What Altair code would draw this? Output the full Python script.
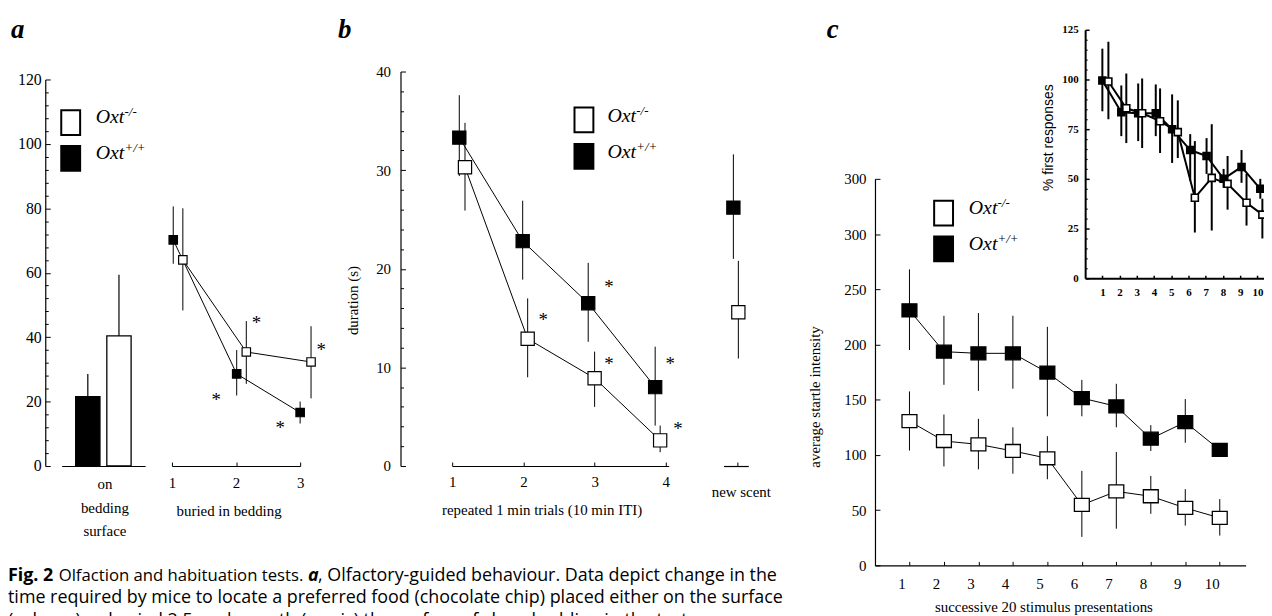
import altair as alt
import pandas as pd

W, H = 1264, 608
SERIF = "Liberation Serif"
SANS = "Open Sans"
GENO = ["Oxt+/+", "Oxt-/-"]  # wild type (filled), knockout (open)

# ---------------- panel a ----------------
a_bar_mean = [21.5, 40.4]
a_bar_upper = [28.6, 59.4]
a_wt_x = [1.02, 2.01, 3.00]
a_wt_mean = [70.2, 28.6, 16.6]
a_wt_lo = [62.8, 21.9, 13.2]
a_wt_hi = [80.6, 36.0, 20.0]
a_ko_x = [1.17, 2.16, 3.17]
a_ko_mean = [64.0, 35.4, 32.3]
a_ko_lo = [48.3, 25.5, 21.0]
a_ko_hi = [80.0, 45.0, 43.4]
a_star_x = [2.32, 3.33, 1.69, 2.69]
a_star_y = [45.2, 36.9, 21.5, 12.6]
a_y_ticks = [0, 20, 40, 60, 80, 100, 120]
a_y_minor = [4, 8, 12, 16, 24, 28, 32, 36, 44, 48, 52, 56, 64, 68, 72, 76,
             84, 88, 92, 96, 104, 108, 112, 116]
a_x_ticks = [1, 2, 3]

# ---------------- panel b ----------------
b_wt_x = [1.10, 1.99, 2.91, 3.85]
b_wt_mean = [33.3, 22.8, 16.5, 8.0]
b_wt_lo = [29.4, 18.9, 12.6, 4.1]
b_wt_hi = [37.6, 26.9, 20.6, 12.1]
b_ko_x = [1.18, 2.06, 3.00, 3.92]
b_ko_mean = [30.3, 12.9, 8.9, 2.6]
b_ko_lo = [25.9, 9.0, 6.0, 1.4]
b_ko_hi = [34.8, 17.0, 11.6, 4.1]
b_new_x = [0.40, 0.60]
b_new_mean = [26.2, 15.6]
b_new_lo = [21.0, 10.9]
b_new_hi = [31.6, 20.8]
b_star_x = [2.28, 3.20, 3.20, 4.06, 4.17]
b_star_y = [15.1, 18.5, 10.6, 10.6, 4.1]
b_y_ticks = [0, 10, 20, 30, 40]
b_y_minor = [2, 4, 6, 8, 12, 14, 16, 18, 22, 24, 26, 28, 32, 34, 36, 38]
b_x_ticks = [1, 2, 3, 4]

# ---------------- panel c ----------------
c_trial = [1, 2, 3, 4, 5, 6, 7, 8, 9, 10]
c_wt_mean = [231, 193.5, 192, 192, 174.6, 151.5, 144, 114.7, 129.7, 104.5]
c_wt_lo = [195, 163.5, 158, 160, 135, 135, 125, 103.6, 111, 104.5]
c_wt_hi = [268, 226, 228.5, 226, 216, 168, 164.4, 127, 150.6, 104.5]
c_ko_mean = [130.6, 112.6, 109.6, 103.6, 97, 54.8, 67, 62.6, 52, 43]
c_ko_lo = [104, 89.6, 87, 83, 78, 25.8, 33.2, 46.7, 36, 27]
c_ko_hi = [157.5, 136.6, 132.7, 125, 117, 85.6, 102.7, 81, 69, 60]
c_y_ticks = [0, 50, 100, 150, 200, 250, 300, 350]

# ---------------- panel c inset ----------------
i_wt_x = [1.0, 2.1, 3.08, 4.1, 5.05, 6.1, 7.05, 8.04, 9.08, 10.17]
i_wt_mean = [99.5, 83.5, 83, 83, 75, 64.5, 61.5, 50, 56, 45]
i_wt_lo = [84, 71.5, 69, 71.5, 58, 49, 52.5, 45.5, 48, 40]
i_wt_hi = [115.5, 97, 98, 97.5, 92.5, 72.5, 70.5, 55, 64.5, 50]
i_ko_x = [1.35, 2.39, 3.31, 4.35, 5.38, 6.37, 7.35, 8.27, 9.37, 10.29]
i_ko_mean = [99, 85.5, 83, 79, 73.5, 40.5, 50.5, 47.5, 38, 32]
i_ko_lo = [80, 68, 65.5, 63, 60.5, 23, 24, 34.5, 26.5, 20]
i_ko_hi = [119, 103, 100.5, 95.5, 89.5, 69, 77.5, 61.5, 52.5, 40]
i_y_ticks = [0, 25, 50, 75, 100, 125]
i_y_minor = [5, 10, 15, 20, 30, 35, 40, 45, 55, 60, 65, 70, 80, 85, 90, 95,
             105, 110, 115, 120]
i_x_ticks = [1, 2, 3, 4, 5, 6, 7, 8, 9, 10]

# ---------------- legend / caption text ----------------
legend_geno = ["Oxt-/-", "Oxt+/+"]
legend_text = ["Oxt", "Oxt"]
legend_sup = ["-/-", "+/+"]
panel_letters = ["a", "b", "c"]
cap1 = ["Fig. 2", "Olfaction and habituation tests.", "a",
        ", Olfactory-guided behaviour. Data depict change in the"]
cap2 = "time required by mice to locate a preferred food (chocolate chip) placed either on the surface"
cap3 = "(column) or buried 2.5 cm beneath (x-axis) the surface of clean bedding in the test cage."

# legend anchors in each panel's data units
A_LEG = dict(sx=-0.58, sy=[106.6, 95.5], tx=-0.19, ty=[106.5, 95.2])
B_LEG = dict(sx=2.85, sy=[35.1, 31.4], tx=3.18, ty=[34.9, 31.2])
C_LEG = dict(sx=1.99, sy=[318.9, 286.6], tx=2.72, ty=[318.5, 285.2])


def lin(domain, rng):
    return alt.Scale(domain=domain, range=rng, nice=False, zero=False)


XA = lin([1, 3], [165, 294])
YA = lin([0, 120], [459, 70])
XA_BAR = alt.Scale(domain=GENO, range=[54, 138], paddingInner=0.22, paddingOuter=0.45)
XB = lin([1, 4.04], [447, 664.9])
XB_NEW = lin([0, 1], [720, 745])
YB = lin([0, 40], [459, 62])
XC = lin([0, 10.75], [872.5, 1245.5])
YC = lin([0, 350], [559, 170])
XI = lin([0, 10.8], [1084, 1271.2])
YI = lin([0, 125], [270, 20])
FILL = alt.Scale(domain=GENO, range=["black", "white"])


def axis(**kw):
    base = dict(grid=False, domainColor="black", domainWidth=1.2, tickColor="black",
                labelColor="black", labelFont=SERIF, titleFont=SERIF, titleColor="black",
                titleFontWeight="normal", labelFlush=False, labelOverlap=False,
                ticks=False, title=None, labelExpr="toString(datum.value)")
    base.update(kw)
    return alt.Axis(**base)


def sdf(geno, x, mean, lo, hi):
    n = len(x)
    return pd.DataFrame({"geno": [geno] * n, "x": x, "mean": mean, "lo": lo, "hi": hi})


def series_layers(df, xs, ys, size, shape, lw=1.0, sw=1.2, xaxis=None, yaxis=None, line=True):
    base = alt.Chart(df)
    out = []
    if line:
        out.append(base.mark_line(color="black", strokeWidth=lw).encode(
            x=alt.X("x:Q", scale=xs, axis=None), y=alt.Y("mean:Q", scale=ys, axis=None),
            detail="geno:N"))
    out.append(base.mark_rule(color="black", strokeWidth=lw).encode(
        x=alt.X("x:Q", scale=xs, axis=xaxis), y=alt.Y("lo:Q", scale=ys, axis=yaxis), y2="hi:Q"))
    out.append(base.mark_point(shape=shape, filled=True, size=size, stroke="black",
                               strokeWidth=sw, opacity=1).encode(
        x=alt.X("x:Q", scale=xs, axis=None), y=alt.Y("mean:Q", scale=ys, axis=None),
        fill=alt.Fill("geno:N", scale=FILL, legend=None)))
    return out


def stars(xv, yv, xs, ys):
    df = pd.DataFrame({"x": xv, "y": yv, "s": ["*"] * len(xv)})
    return alt.Chart(df).mark_text(font=SERIF, fontSize=19, color="black",
                                   baseline="alphabetic", dy=9).encode(
        x=alt.X("x:Q", scale=xs, axis=None), y=alt.Y("y:Q", scale=ys, axis=None), text="s:N")


LEG_SHAPE = "M-0.76,-1L0.76,-1L0.76,1L-0.76,1Z"


def legend_layers(xs, ys, pos):
    df = pd.DataFrame({"geno": legend_geno, "lab": legend_text, "sup": legend_sup,
                       "sx": [pos["sx"]] * 2, "sy": pos["sy"],
                       "tx": [pos["tx"]] * 2, "ty": pos["ty"]})
    base = alt.Chart(df)
    sq = base.mark_point(shape=LEG_SHAPE, filled=True, size=625, stroke="black",
                         strokeWidth=2, opacity=1).encode(
        x=alt.X("sx:Q", scale=xs, axis=None), y=alt.Y("sy:Q", scale=ys, axis=None),
        fill=alt.Fill("geno:N", scale=FILL, legend=None))
    txt = base.mark_text(align="left", baseline="alphabetic", font=SERIF, fontStyle="italic",
                         fontSize=20, color="black").encode(
        x=alt.X("tx:Q", scale=xs, axis=None), y=alt.Y("ty:Q", scale=ys, axis=None), text="lab:N")
    sup = base.mark_text(align="left", baseline="alphabetic", font=SERIF, fontStyle="italic",
                         fontSize=13, color="black", dx=29, dy=-7).encode(
        x=alt.X("tx:Q", scale=xs, axis=None), y=alt.Y("ty:Q", scale=ys, axis=None), text="sup:N")
    return [sq, txt, sup]


def tick_child(values, scale, channel, pos, size, width=1.0):
    df = pd.DataFrame({"v": values})
    common = dict(values=values, labels=False, domain=False, ticks=True, tickSize=size,
                  tickColor="black", tickWidth=width, grid=False, title=None)
    if channel == "y":
        enc = {"y": alt.Y("v:Q", scale=scale,
                          axis=alt.Axis(orient="right", offset=pos - W, **common))}
    else:
        enc = {"x": alt.X("v:Q", scale=scale,
                          axis=alt.Axis(orient="top", offset=-pos, **common))}
    return alt.Chart(df).mark_point(opacity=0).encode(**enc)


def label(text, x, y, size, weight="normal", style="normal", font=SANS, align="left"):
    return alt.Chart(pd.DataFrame({"t": [text]})).mark_text(
        x=x, y=y, align=align, baseline="alphabetic", font=font, fontSize=size,
        fontWeight=weight, fontStyle=style, color="black").encode(text="t:N")


units = []

# ---------------- panel a ----------------
df_bar = pd.DataFrame({"geno": GENO, "mean": a_bar_mean, "upper": a_bar_upper})
ax_bar = axis(orient="bottom", offset=459 - H, labels=False,
              title=["on", "bedding", "surface"], titleFontSize=15, titleX=97, titleY=23,
              titleBaseline="alphabetic", titleLineHeight=23.5, titleAlign="center")
units.append(alt.Chart(df_bar).mark_bar(stroke="black", strokeWidth=1.3).encode(
    x=alt.X("geno:N", scale=XA_BAR, axis=ax_bar),
    y=alt.Y("mean:Q", scale=YA, axis=None),
    fill=alt.Fill("geno:N", scale=FILL, legend=None)))
units.append(alt.Chart(df_bar).mark_rule(color="black", strokeWidth=1.2).encode(
    x=alt.X("geno:N", scale=XA_BAR, axis=None),
    y=alt.Y("mean:Q", scale=YA, axis=None), y2="upper:Q"))

df_a = pd.concat([sdf("Oxt+/+", a_wt_x, a_wt_mean, a_wt_lo, a_wt_hi),
                  sdf("Oxt-/-", a_ko_x, a_ko_mean, a_ko_lo, a_ko_hi)])
ax_a_x = axis(orient="bottom", offset=459 - H, values=a_x_ticks, labelFontSize=15,
              labelBaseline="middle", labelPadding=17, title="buried in bedding",
              titleFontSize=15, titleX=222, titleY=50, titleBaseline="alphabetic",
              titleAlign="center")
ax_a_y = axis(orient="left", offset=-37.5, values=a_y_ticks, labelFontSize=16, labelPadding=4)
units += series_layers(df_a, XA, YA, 72, "square", xaxis=ax_a_x, yaxis=ax_a_y)
units.append(stars(a_star_x, a_star_y, XA, YA))
units += legend_layers(XA, YA, A_LEG)

# ---------------- panel b ----------------
df_b = pd.concat([sdf("Oxt+/+", b_wt_x, b_wt_mean, b_wt_lo, b_wt_hi),
                  sdf("Oxt-/-", b_ko_x, b_ko_mean, b_ko_lo, b_ko_hi)])
ax_b_x = axis(orient="bottom", offset=459 - H, values=b_x_ticks, labelFontSize=15,
              labelBaseline="middle", labelPadding=16,
              title="repeated 1 min trials (10 min ITI)", titleFontSize=15, titleX=537,
              titleY=49, titleBaseline="alphabetic", titleAlign="center")
ax_b_y = axis(orient="left", offset=-395, values=b_y_ticks, labelFontSize=15, labelPadding=10,
              title="duration (s)", titleFontSize=15, titleX=-48, titleY=292, titleAngle=270,
              titleBaseline="middle", titleAlign="center")
units += series_layers(df_b, XB, YB, 177, "square", xaxis=ax_b_x, yaxis=ax_b_y)
units.append(stars(b_star_x, b_star_y, XB, YB))
units += legend_layers(XB, YB, B_LEG)

df_bn = pd.concat([sdf("Oxt+/+", b_new_x[:1], b_new_mean[:1], b_new_lo[:1], b_new_hi[:1]),
                   sdf("Oxt-/-", b_new_x[1:], b_new_mean[1:], b_new_lo[1:], b_new_hi[1:])])
ax_bn_x = axis(orient="bottom", offset=459 - H, values=[0.7], labelExpr="'new scent'",
               labelFontSize=15, labelBaseline="middle", labelPadding=26)
units += series_layers(df_bn, XB_NEW, YB, 177, "square", xaxis=ax_bn_x, line=False)

# ---------------- panel c ----------------
df_c = pd.concat([sdf("Oxt+/+", c_trial, c_wt_mean, c_wt_lo, c_wt_hi),
                  sdf("Oxt-/-", c_trial, c_ko_mean, c_ko_lo, c_ko_hi)])
ax_c_x = axis(orient="bottom", offset=559 - H, values=c_trial, labelFontSize=15,
              labelBaseline="middle", labelPadding=18, labelOffset=-8,
              title="successive 20 stimulus presentations", titleFontSize=15, titleX=1042,
              titleY=46, titleBaseline="alphabetic", titleAlign="center")
ax_c_y = axis(orient="left", offset=-872.5, values=c_y_ticks, labelFontSize=15, labelPadding=9,
              labelExpr="datum.value == 350 ? '300' : toString(datum.value)",
              title="average startle intensity", titleFontSize=15, titleX=-60.5, titleY=389,
              titleAngle=270, titleBaseline="middle", titleAlign="center")
C_SHAPE = "M-1,-0.87L1,-0.87L1,0.87L-1,0.87Z"
units += series_layers(df_c, XC, YC, 225, C_SHAPE, sw=1.3, xaxis=ax_c_x, yaxis=ax_c_y)
units += legend_layers(XC, YC, C_LEG)

# ---------------- inset ----------------
df_i = pd.concat([sdf("Oxt+/+", i_wt_x, i_wt_mean, i_wt_lo, i_wt_hi),
                  sdf("Oxt-/-", i_ko_x, i_ko_mean, i_ko_lo, i_ko_hi)])
ax_i_x = axis(orient="bottom", offset=270 - H, values=i_x_ticks, labelFontSize=11,
              labelFontWeight="bold", labelBaseline="middle", labelPadding=14, domainWidth=2)
ax_i_y = axis(orient="left", offset=-1084, values=i_y_ticks, labelFontSize=11,
              labelFontWeight="bold", labelPadding=7, domainWidth=2,
              title="% first responses", titleFont="Liberation Sans", titleFontSize=14,
              titleX=-37, titleY=128, titleAngle=270, titleBaseline="middle",
              titleAlign="center")
units += series_layers(df_i, XI, YI, 49, "square", lw=2, sw=1.6, xaxis=ax_i_x, yaxis=ax_i_y)

# ---------------- inward ticks ----------------
units += [
    tick_child(a_y_ticks, YA, "y", 37.5, 5),
    tick_child(a_y_minor, YA, "y", 37.5, 3),
    tick_child(a_x_ticks, XA, "x", 459, 4),
    tick_child(b_y_ticks, YB, "y", 395, 5),
    tick_child(b_y_minor, YB, "y", 395, 3),
    tick_child(b_x_ticks, XB, "x", 459, 4),
    tick_child([0.56], XB_NEW, "x", 459, 4),
    tick_child(c_y_ticks, YC, "y", 872.5, 5),
    tick_child(c_trial, XC, "x", 559, 4),
    tick_child(i_y_ticks, YI, "y", 1084, 4, 1.5),
    tick_child(i_y_minor, YI, "y", 1084, 2, 1.2),
    tick_child(i_x_ticks, XI, "x", 270, 3, 1.5),
]

# ---------------- letters and caption ----------------
CAP = 18
units += [
    label(panel_letters[0], 3, 28, 27, "bold", "italic", SERIF),
    label(panel_letters[1], 332, 28, 27, "bold", "italic", SERIF),
    label(panel_letters[2], 824, 28, 27, "bold", "italic", SERIF),
    label(cap1[0], 0, 575, CAP, "bold"),
    label(cap1[1], 51, 575, 16.8),
    label(cap1[2], 302, 575, CAP, "bold", "italic"),
    label(cap1[3], 312, 575, CAP),
    label(cap2, 0, 597, CAP),
    label(cap3, 0, 620, CAP),
]

chart = alt.layer(*units).resolve_scale(
    x="independent", y="independent"
).properties(
    width=W, height=H, autosize=alt.AutoSizeParams(type="none"), padding=0,
    background="white"
).configure_view(stroke=None)

chart.save("out.html", embed_options={"renderer": "svg", "actions": False})
